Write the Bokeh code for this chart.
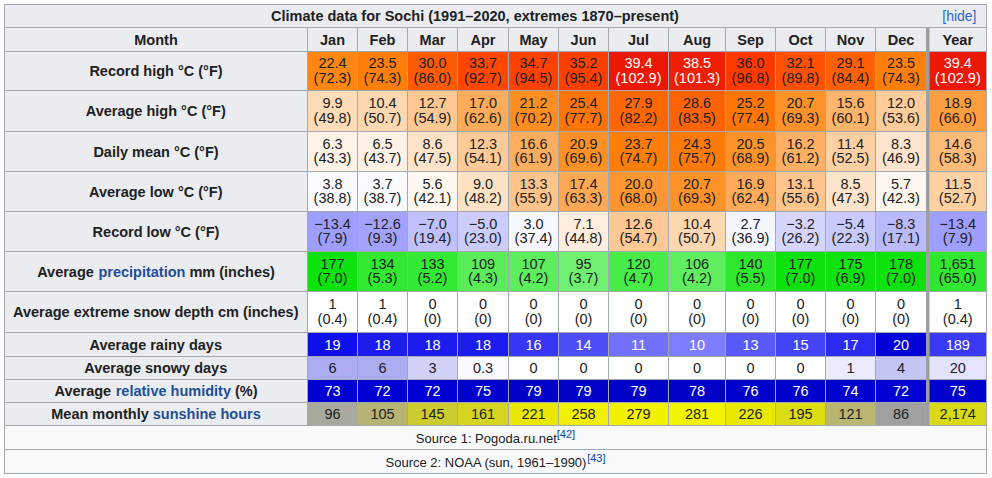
from bokeh.plotting import figure
from bokeh.models import ColumnDataSource, Range1d
from bokeh.core.properties import value
from bokeh.embed import file_html
from bokeh.resources import INLINE

# ---------------- data ----------------
title_text = "Climate data for Sochi (1991\u20132020, extremes 1870\u2013present)"
categories = ["Jan", "Feb", "Mar", "Apr", "May", "Jun", "Jul", "Aug", "Sep", "Oct", "Nov", "Dec", "Year"]

record_high_c = [22.4, 23.5, 30.0, 33.7, 34.7, 35.2, 39.4, 38.5, 36.0, 32.1, 29.1, 23.5, 39.4]
record_high_f = [72.3, 74.3, 86.0, 92.7, 94.5, 95.4, 102.9, 101.3, 96.8, 89.8, 84.4, 74.3, 102.9]
avg_high_c = [9.9, 10.4, 12.7, 17.0, 21.2, 25.4, 27.9, 28.6, 25.2, 20.7, 15.6, 12.0, 18.9]
avg_high_f = [49.8, 50.7, 54.9, 62.6, 70.2, 77.7, 82.2, 83.5, 77.4, 69.3, 60.1, 53.6, 66.0]
daily_mean_c = [6.3, 6.5, 8.6, 12.3, 16.6, 20.9, 23.7, 24.3, 20.5, 16.2, 11.4, 8.3, 14.6]
daily_mean_f = [43.3, 43.7, 47.5, 54.1, 61.9, 69.6, 74.7, 75.7, 68.9, 61.2, 52.5, 46.9, 58.3]
avg_low_c = [3.8, 3.7, 5.6, 9.0, 13.3, 17.4, 20.0, 20.7, 16.9, 13.1, 8.5, 5.7, 11.5]
avg_low_f = [38.8, 38.7, 42.1, 48.2, 55.9, 63.3, 68.0, 69.3, 62.4, 55.6, 47.3, 42.3, 52.7]
record_low_c = [-13.4, -12.6, -7.0, -5.0, 3.0, 7.1, 12.6, 10.4, 2.7, -3.2, -5.4, -8.3, -13.4]
record_low_f = [7.9, 9.3, 19.4, 23.0, 37.4, 44.8, 54.7, 50.7, 36.9, 26.2, 22.3, 17.1, 7.9]
precip_mm = [177, 134, 133, 109, 107, 95, 120, 106, 140, 177, 175, 178, 1651]
precip_in = [7.0, 5.3, 5.2, 4.3, 4.2, 3.7, 4.7, 4.2, 5.5, 7.0, 6.9, 7.0, 65.0]
snow_depth_cm = [1, 1, 0, 0, 0, 0, 0, 0, 0, 0, 0, 0, 1]
snow_depth_in = [0.4, 0.4, 0, 0, 0, 0, 0, 0, 0, 0, 0, 0, 0.4]
rainy_days = [19, 18, 18, 18, 16, 14, 11, 10, 13, 15, 17, 20, 189]
snowy_days = [6, 6, 3, 0.3, 0, 0, 0, 0, 0, 0, 1, 4, 20]
humidity = [73, 72, 72, 75, 79, 79, 79, 78, 76, 76, 74, 72, 75]
sunshine = [96, 105, 145, 161, 221, 258, 279, 281, 226, 195, 121, 86, 2174]

source_lines = [("Source 1: Pogoda.ru.net", "[42]"), ("Source 2: NOAA (sun, 1961\u20131990)", "[43]")]

# ---------------- style / layout ----------------
DARK = "#202122"
LINK = "#1f4e96"
HEAD_BG = "#eaecf0"
SRC_BG = "#f8f9fa"
BORDER = "#a2a9b1"
FONT = "Liberation Sans"
FS = 14.5

X0, X1 = 4, 986
LABEL_R = 307
col_edges = [307, 357, 407, 457, 508, 558, 608, 668, 725, 775, 825, 875, 926]
YEAR_L, YEAR_R = 928.5, 986
row_edges = [4, 27, 51, 90, 131, 171, 211, 251, 291, 332, 356, 379, 402, 425, 449, 473]

W_PX, H_PX = 992, 478
XR = (0, 992)
YR = (478, 0)
SX = W_PX / (XR[1] - XR[0])

BOLD_W = {'A': 722, 'v': 556, 'e': 556, 'r': 389, 'a': 556, 'g': 611, ' ': 278, 'p': 611, 'c': 556,
          'i': 278, 't': 333, 'o': 611, 'n': 611, 'm': 889, '(': 333, ')': 333, 'h': 611, 's': 556,
          'l': 278, 'u': 611, 'y': 556, '%': 889, 'M': 833, 'd': 611, 'x': 556, 'w': 778, 'R': 722,
          'C': 722, 'F': 611, '°': 400, 'D': 722, 'b': 611, 'f': 333}
REG_W = {'S': 667, 'o': 556, 'u': 556, 'r': 333, 'c': 500, 'e': 556, ' ': 278, ':': 278, 'P': 667,
         'g': 556, 'd': 556, 'a': 556, '.': 278, 'n': 556, 't': 278, 'N': 722, 'O': 778, 'A': 667,
         '(': 333, ')': 333, 's': 500, ',': 278, '\u2013': 556, '[': 278, ']': 278}


def tw(s, table, size):
    return sum(table.get(ch, 556) for ch in s) * size / 1000.0


def hexcol(rgb):
    return "#%02x%02x%02x" % tuple(int(round(max(0, min(255, c)))) for c in rgb)


def scale(v, stops):
    if v <= stops[0][0]:
        return hexcol(stops[0][1])
    for (v0, c0), (v1, c1) in zip(stops, stops[1:]):
        if v <= v1:
            f = (v - v0) / (v1 - v0)
            return hexcol([a + (b - a) * f for a, b in zip(c0, c1)])
    return hexcol(stops[-1][1])


TEMP_STOPS = [(-42.75, (0, 0, 255)), (4.5, (255, 255, 255)), (23, (255, 130, 10)),
              (36, (255, 58, 0)), (38, (242, 34, 4)), (40, (232, 20, 5))]
PRECIP_STOPS = [(0, (255, 255, 255)), (95, (112, 240, 112)), (134, (50, 233, 50)),
                (177, (14, 226, 14)), (250, (0, 200, 0))]
SNOWDEPTH_STOPS = [(0, (255, 255, 255)), (50, (200, 200, 255))]
RAINY_STOPS = [(0, (255, 255, 255)), (10, (125, 125, 255)), (16, (55, 55, 245)),
               (19, (15, 15, 235)), (20, (0, 0, 215))]
SNOWY_STOPS = [(0, (255, 255, 255)), (1, (235, 235, 252)), (3, (210, 210, 248)),
               (6, (172, 172, 240)), (20, (0, 0, 200))]
HUM_STOPS = [(0, (255, 255, 255)), (60, (40, 40, 240)), (72, (0, 0, 212)), (80, (0, 0, 196))]
SUN_STOPS = [(0, (128, 128, 128)), (86, (160, 160, 160)), (96, (168, 168, 158)),
             (105, (182, 180, 116)), (121, (184, 182, 112)), (145, (204, 204, 48)),
             (161, (212, 212, 32)), (195, (220, 220, 16)), (221, (232, 232, 0)),
             (258, (240, 240, 0)), (300, (245, 245, 0))]


def f1(v):
    return f"{v:.1f}".replace("-", "\u2212")


def fint(v):
    return f"{int(v):,}"


def fnum(v):
    return fint(v) if float(v).is_integer() else f"{v}"


def fpar1(v):
    return "(" + f1(v) + ")"


def fpar_snow(v):
    return "(0)" if v == 0 else f"({v})"


rows = [
    ([("Record high °C (°F)", DARK)], record_high_c, record_high_f, f1, fpar1, TEMP_STOPS, 1),
    ([("Average high °C (°F)", DARK)], avg_high_c, avg_high_f, f1, fpar1, TEMP_STOPS, 1),
    ([("Daily mean °C (°F)", DARK)], daily_mean_c, daily_mean_f, f1, fpar1, TEMP_STOPS, 1),
    ([("Average low °C (°F)", DARK)], avg_low_c, avg_low_f, f1, fpar1, TEMP_STOPS, 1),
    ([("Record low °C (°F)", DARK)], record_low_c, record_low_f, f1, fpar1, TEMP_STOPS, 1),
    ([("Average ", DARK), ("precipitation", LINK), (" mm (inches)", DARK)], precip_mm, precip_in,
     fint, fpar1, PRECIP_STOPS, 12),
    ([("Average extreme snow depth cm (inches)", DARK)], snow_depth_cm, snow_depth_in, fint, fpar_snow,
     SNOWDEPTH_STOPS, 1),
    ([("Average rainy days", DARK)], rainy_days, None, fint, None, RAINY_STOPS, 12),
    ([("Average snowy days", DARK)], snowy_days, None, fnum, None, SNOWY_STOPS, 12),
    ([("Average ", DARK), ("relative humidity", LINK), (" (%)", DARK)], humidity, None, fint, None,
     HUM_STOPS, 1),
    ([("Mean monthly ", DARK), ("sunshine hours", LINK)], sunshine, None, fint, None, SUN_STOPS, 12),
]
white_text_rows = {7, 9}

# vertical placement (text y = visual centre of the glyphs)
L1_DY, L2_DY = -8.0, 6.5

# ---------------- figure ----------------
p = figure(width=W_PX, height=H_PX, x_range=Range1d(*XR), y_range=Range1d(*YR),
           output_backend="svg", toolbar_location=None, tools="", min_border=0)
p.axis.visible = False
p.grid.visible = False
p.outline_line_color = None
p.background_fill_color = "white"
p.border_fill_color = "white"

col_l = col_edges[:-1] + [YEAR_L]
col_r = col_edges[1:] + [YEAR_R]
col_c = [(a + b) / 2 for a, b in zip(col_l, col_r)]

cells = dict(left=[], right=[], top=[], bottom=[], fill=[])


def add_cell(l, r, t, b, fill):
    cells["left"].append(l)
    cells["right"].append(r)
    cells["top"].append(t)
    cells["bottom"].append(b)
    cells["fill"].append(fill)


add_cell(X0, X1, row_edges[0], row_edges[1], HEAD_BG)
add_cell(X0, LABEL_R, row_edges[1], row_edges[2], HEAD_BG)
for j in range(len(categories)):
    add_cell(col_l[j], col_r[j], row_edges[1], row_edges[2], HEAD_BG)

vals = dict(x=[], y=[], text=[], color=[])
labels = dict(x=[], y=[], text=[], color=[])

for i, (segs, v1, v2, fmt1, fmt2, stops, ydiv) in enumerate(rows):
    t, b = row_edges[i + 2], row_edges[i + 3]
    c = (t + b) / 2
    add_cell(X0, LABEL_R, t, b, HEAD_BG)
    total = sum(tw(s, BOLD_W, FS) for s, _ in segs) / SX
    x = (X0 + LABEL_R) / 2 - total / 2
    for s, colr in segs:
        lead = len(s) - len(s.lstrip(" "))
        labels["x"].append(x + tw(s[:lead], BOLD_W, FS) / SX)
        labels["y"].append(c + 0.2)
        labels["text"].append(s.strip(" "))
        labels["color"].append(colr)
        x += tw(s, BOLD_W, FS) / SX
    for j in range(len(categories)):
        v = v1[j]
        cv = v / ydiv if j == len(categories) - 1 else v
        add_cell(col_l[j], col_r[j], t, b, scale(cv, stops))
        if i in white_text_rows or (stops is TEMP_STOPS and v >= 38):
            tc = "#ffffff"
        else:
            tc = DARK
        if v2 is None:
            vals["x"].append(col_c[j]); vals["y"].append(c)
            vals["text"].append(fmt1(v)); vals["color"].append(tc)
        else:
            vals["x"].append(col_c[j]); vals["y"].append(c + L1_DY)
            vals["text"].append(fmt1(v)); vals["color"].append(tc)
            vals["x"].append(col_c[j]); vals["y"].append(c + L2_DY)
            vals["text"].append(fmt2(v2[j])); vals["color"].append(tc)

for k in range(len(source_lines)):
    add_cell(X0, X1, row_edges[13 + k], row_edges[14 + k], SRC_BG)

p.quad(left="left", right="right", top="top", bottom="bottom", fill_color="fill",
       line_color=BORDER, line_width=1, source=ColumnDataSource(cells))

p.quad(left=[col_edges[-1]], right=[YEAR_L], top=[row_edges[1]], bottom=[row_edges[13]],
       fill_color="#9c9c9c", line_color=None)
p.quad(left=[X0], right=[X1], top=[row_edges[0]], bottom=[row_edges[-1]],
       fill_color=None, line_color=BORDER, line_width=1)

common = dict(text_font=value(FONT), text_baseline="middle")

p.text(x=[474.5], y=[15.3], text=[title_text], text_align="center", text_font_style="bold",
       text_font_size=value(f"{FS}px"), text_color=DARK, **common)
p.text(x=[976], y=[15.3], text=["[hide]"], text_align="right", text_font_size=value("14px"),
       text_color="#3366cc", **common)

hc = (row_edges[1] + row_edges[2]) / 2
p.text(x=[(X0 + LABEL_R) / 2] + col_c, y=[hc] * (len(categories) + 1), text=["Month"] + categories,
       text_align="center", text_font_style="bold", text_font_size=value(f"{FS}px"),
       text_color=DARK, **common)

p.text(x="x", y="y", text="text", text_color="color", source=ColumnDataSource(labels),
       text_align="left", text_font_style="bold", text_font_size=value(f"{FS}px"), **common)

p.text(x="x", y="y", text="text", text_color="color", source=ColumnDataSource(vals),
       text_align="center", text_font_size=value(f"{FS}px"), **common)

SFS, SUPFS = 13, 11
src_main = dict(x=[], y=[], text=[])
src_sup = dict(x=[], y=[], text=[])
for k, (main, sup) in enumerate(source_lines):
    t, b = row_edges[13 + k], row_edges[14 + k]
    c = (t + b) / 2
    total = (tw(main, REG_W, SFS) + tw(sup, REG_W, SUPFS)) / SX
    x = (X0 + X1) / 2 - total / 2
    src_main["x"].append(x); src_main["y"].append(c + 0.5); src_main["text"].append(main)
    src_sup["x"].append(x + tw(main, REG_W, SFS) / SX); src_sup["y"].append(c - 3.8)
    src_sup["text"].append(sup)
p.text(x="x", y="y", text="text", source=ColumnDataSource(src_main), text_align="left",
       text_font_size=value(f"{SFS}px"), text_color=DARK, **common)
p.text(x="x", y="y", text="text", source=ColumnDataSource(src_sup), text_align="left",
       text_font_size=value(f"{SUPFS}px"), text_color="#0645ad", **common)

open("out.html", "w").write(file_html(p, INLINE))
